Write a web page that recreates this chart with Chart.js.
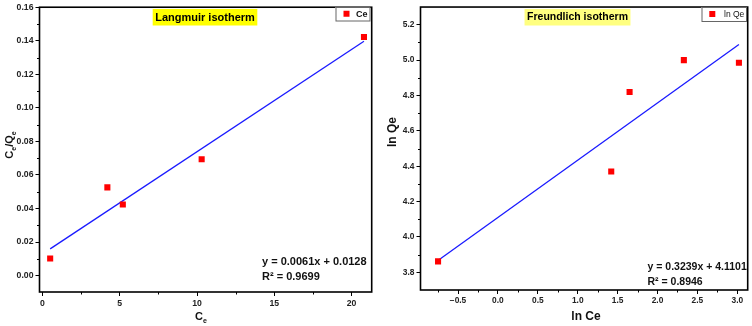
<!DOCTYPE html>
<html>
<head>
<meta charset="utf-8">
<script src="https://cdn.jsdelivr.net/npm/chart.js@4.4.1/dist/chart.umd.min.js"></script>
<style>
  html, body { margin: 0; padding: 0; background: #fff; }
  #wrap { display: flex; width: 752px; height: 326px; }
  canvas { display: block; }
</style>
</head>
<body>
<div id="wrap">
  <canvas id="langmuir" width="376" height="326"></canvas>
  <canvas id="freundlich" width="376" height="326"></canvas>
</div>
<script>
// Langmuir: Ce vs Ce/Qe
const langCe = [0.5, 4.2, 5.2, 10.3, 20.8];
const langCeQe = [0.0102, 0.0526, 0.0424, 0.0694, 0.1422];
const langFitX = [0.5, 20.8];
const langFitY = [0.0159, 0.1397];
const langXTicks = [0, 5, 10, 15, 20];
const langYTicks = [0, 0.02, 0.04, 0.06, 0.08, 0.10, 0.12, 0.14, 0.16];

// Freundlich: ln Ce vs ln Qe
const freLnCe = [-0.75, 1.42, 1.65, 2.33, 3.02];
const freLnQe = [3.862, 4.37, 4.82, 5.0, 4.985];
const freFitX = [-0.76, 3.02];
const freFitY = [3.864, 5.088];
const freXTicks = [-0.5, 0.0, 0.5, 1.0, 1.5, 2.0, 2.5, 3.0];
const freYTicks = [3.8, 4.0, 4.2, 4.4, 4.6, 4.8, 5.0, 5.2];

const FONT = '"Liberation Sans", Arial, sans-serif';
const RED = '#ff0000';
const BLUE = '#1a1aff';

function pts(xs, ys) {
    return xs.map((x, i) => ({ x: x, y: ys[i] }));
}

// frame, minor ticks, title, legend, equation, axis titles
const decorPlugin = {
    id: 'decor',
    afterDraw(chart, args, o) {
        const ctx = chart.ctx;
        const a = chart.chartArea;
        const xs = chart.scales.x, ys = chart.scales.y;
        ctx.save();

        // minor ticks halfway between majors
        ctx.strokeStyle = '#000';
        ctx.lineWidth = 1;
        const xt = o.xTicks, yt = o.yTicks;
        const xStep = xt[1] - xt[0], yStep = yt[1] - yt[0];
        for (let v = xt[0] - xStep / 2; v <= xs.max; v += xStep) {
            if (v < xs.min) continue;
            const px = Math.round(xs.getPixelForValue(v)) + 0.5;
            ctx.beginPath(); ctx.moveTo(px, a.bottom); ctx.lineTo(px, a.bottom + 2.5); ctx.stroke();
        }
        for (let v = yt[0] - yStep / 2; v <= ys.max; v += yStep) {
            if (v < ys.min) continue;
            const py = Math.round(ys.getPixelForValue(v)) + 0.5;
            ctx.beginPath(); ctx.moveTo(a.left, py); ctx.lineTo(a.left - 2.5, py); ctx.stroke();
        }

        // box
        ctx.lineWidth = 1.6;
        ctx.strokeRect(a.left, a.top, a.right - a.left, a.bottom - a.top);

        // title with highlight
        ctx.font = 'bold ' + o.titleSize + 'px ' + FONT;
        ctx.textBaseline = 'middle';
        ctx.textAlign = 'center';
        const tw = ctx.measureText(o.title).width;
        ctx.fillStyle = o.titleBg;
        ctx.fillRect(o.titleX - tw / 2 - 2.5, o.titleY - 8, tw + 5, 16.5);
        ctx.fillStyle = '#000';
        ctx.fillText(o.title, o.titleX, o.titleY + 0.5);

        // legend
        const L = o.legend;
        ctx.fillStyle = '#fff';
        ctx.fillRect(L.x, L.y, L.w, L.h);
        ctx.strokeStyle = '#666';
        ctx.lineWidth = 1;
        ctx.strokeRect(L.x + 0.5, L.y + 0.5, L.w, L.h);
        ctx.fillStyle = RED;
        ctx.fillRect(L.sx - 3, L.y + L.h / 2 - 3, 6, 6);
        ctx.fillStyle = '#111';
        ctx.textAlign = 'left';
        ctx.font = L.font + ' ' + FONT;
        ctx.fillText(L.text, L.tx, L.y + L.h / 2 + 1);

        // equation
        ctx.textBaseline = 'alphabetic';
        ctx.font = 'bold ' + o.eqSize + 'px ' + FONT;
        ctx.fillStyle = '#111';
        ctx.fillText(o.eq[0], o.eqX, o.eqY[0]);
        ctx.fillText(o.eq[1], o.eqX, o.eqY[1]);

        // axis titles (parts with subscripts)
        drawRich(ctx, o.xTitle, o.xTitleX, o.xTitleY, 0, o.axSize);
        drawRich(ctx, o.yTitle, o.yTitleX, o.yTitleY, -Math.PI / 2, o.axSize);
        ctx.restore();
    }
};

function drawRich(ctx, parts, cx, cy, rot, size) {
    ctx.save();
    ctx.translate(cx, cy);
    ctx.rotate(rot);
    ctx.textBaseline = 'alphabetic';
    ctx.textAlign = 'left';
    const sub = Math.round(size * 0.6);
    let total = 0;
    parts.forEach(p => {
        ctx.font = 'bold ' + (p.sub ? sub : size) + 'px ' + FONT;
        total += ctx.measureText(p.t).width;
    });
    let x = -total / 2;
    ctx.fillStyle = '#111';
    parts.forEach(p => {
        ctx.font = 'bold ' + (p.sub ? sub : size) + 'px ' + FONT;
        ctx.fillText(p.t, x, p.sub ? 6.5 : 4);
        x += ctx.measureText(p.t).width;
    });
    ctx.restore();
}

function makeChart(id, cfg) {
    const tickFont = { family: FONT, size: cfg.tickSize, weight: 'bold' };
    return new Chart(document.getElementById(id), {
        type: 'scatter',
        data: {
            datasets: [
                {
                    label: 'fit',
                    data: pts(cfg.fitX, cfg.fitY),
                    showLine: true,
                    borderColor: BLUE,
                    borderWidth: 1.3,
                    pointRadius: 0,
                    order: 2
                },
                {
                    label: cfg.legend.text,
                    data: pts(cfg.xs, cfg.ys),
                    pointStyle: 'rect',
                    pointRadius: 4.3,
                    backgroundColor: RED,
                    borderWidth: 0,
                    order: 1
                }
            ]
        },
        options: {
            responsive: false,
            animation: false,
            devicePixelRatio: 1,
            layout: { padding: { top: cfg.top, right: cfg.right, left: 0, bottom: 0 } },
            plugins: {
                legend: { display: false },
                tooltip: { enabled: false },
                decor: cfg
            },
            scales: {
                x: {
                    type: 'linear',
                    min: cfg.xMin, max: cfg.xMax,
                    afterBuildTicks: s => { s.ticks = cfg.xTicks.map(v => ({ value: v })); },
                    afterFit: s => { s.height = cfg.xAxisH; },
                    ticks: {
                        font: tickFont, color: '#222', padding: 2, maxRotation: 0,
                        callback: cfg.xFmt
                    },
                    grid: { drawOnChartArea: false, drawTicks: true, tickLength: 4, color: '#000', lineWidth: 1 },
                    border: { display: false }
                },
                y: {
                    type: 'linear',
                    min: cfg.yMin, max: cfg.yMax,
                    afterBuildTicks: s => { s.ticks = cfg.yTicks.map(v => ({ value: v })); },
                    afterFit: s => { s.width = cfg.yAxisW; },
                    ticks: {
                        font: tickFont, color: '#222', padding: 2,
                        callback: cfg.yFmt
                    },
                    grid: { drawOnChartArea: false, drawTicks: true, tickLength: 4, color: '#000', lineWidth: 1 },
                    border: { display: false }
                }
            }
        },
        plugins: [decorPlugin]
    });
}

makeChart('langmuir', {
    xs: langCe, ys: langCeQe, fitX: langFitX, fitY: langFitY,
    xTicks: langXTicks, yTicks: langYTicks,
    xMin: -0.19, xMax: 21.3, yMin: -0.0098, yMax: 0.16,
    xFmt: v => String(v), yFmt: v => v.toFixed(2),
    tickSize: 8.7,
    top: 5, right: 4, xAxisH: 34, yAxisW: 39.5,
    title: 'Langmuir isotherm', titleSize: 11, titleBg: '#ffff00', titleX: 205, titleY: 17,
    legend: { x: 335.5, y: 7, w: 34, h: 13.5, sx: 346.5, tx: 356, text: 'Ce', font: 'bold 9px' },
    eq: ['y = 0.0061x + 0.0128', 'R\u00b2 = 0.9699'], eqSize: 11, eqX: 262, eqY: [265, 279.5],
    axSize: 11,
    xTitle: [{ t: 'C' }, { t: 'e', sub: true }], xTitleX: 201, xTitleY: 316,
    yTitle: [{ t: 'C' }, { t: 'e', sub: true }, { t: '/Q' }, { t: 'e', sub: true }], yTitleX: 9, yTitleY: 145
});

makeChart('freundlich', {
    xs: freLnCe, ys: freLnQe, fitX: freFitX, fitY: freFitY,
    xTicks: freXTicks, yTicks: freYTicks,
    xMin: -0.97, xMax: 3.13, yMin: 3.70, yMax: 5.30,
    xFmt: v => v.toFixed(1).replace('-', '\u2212'), yFmt: v => v.toFixed(1),
    tickSize: 8.4,
    top: 4, right: 3, xAxisH: 36, yAxisW: 44.5,
    title: 'Freundlich isotherm', titleSize: 10.5, titleBg: '#ffff80', titleX: 201.5, titleY: 17,
    legend: { x: 325.5, y: 7, w: 44.5, h: 14, sx: 336.3, tx: 348, text: 'ln Qe', font: '8.5px' },
    eq: ['y = 0.3239x + 4.1101', 'R\u00b2 = 0.8946'], eqSize: 10.5, eqX: 271.5, eqY: [269.5, 284.5],
    axSize: 12,
    xTitle: [{ t: 'ln Ce' }], xTitleX: 210, xTitleY: 316,
    yTitle: [{ t: 'ln Qe' }], yTitleX: 16, yTitleY: 132
});
</script>
</body>
</html>
